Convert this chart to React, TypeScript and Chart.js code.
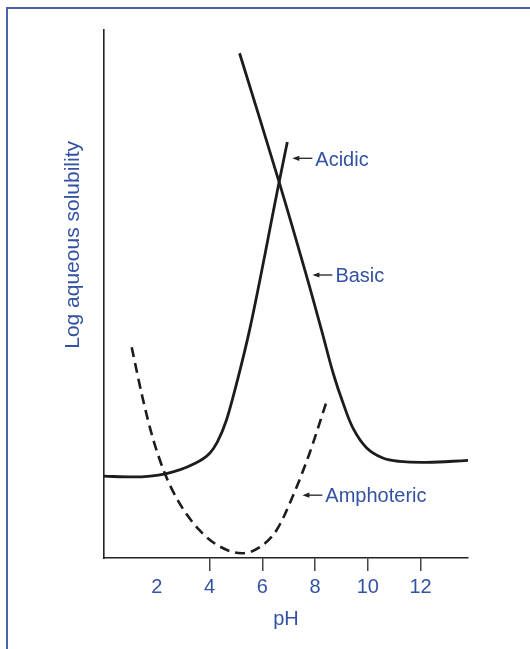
import React, { useEffect, useRef } from "react";
import { Chart, registerables } from "chart.js";

Chart.register(...registerables);

// pH axis
const xTickValues = [2, 4, 6, 8, 10, 12];
const xMin = 0;
const xMax = 13.8;

// Acidic compound (solid)
const acidicPH = [0, 1.08, 2.37, 3.36, 4.0, 4.3, 4.64, 5.06, 5.52, 6.64, 6.95];
const acidicLog = [15.5, 15.35, 16.0, 17.7, 19.8, 22.0, 26.1, 33.7, 43.2, 71.2, 78.8];

// Basic compound (solid)
const basicPH = [5.14, 6.64, 7.64, 8.24, 8.7, 9.08, 9.46, 9.95, 10.55, 11.2, 12.22, 13.8];
const basicLog = [95.6, 71.2, 54.1, 43.3, 34.8, 29.1, 24.4, 20.9, 19.0, 18.3, 18.1, 18.5];

// Amphoteric compound (dashed)
const amphPH = [1.05, 1.46, 1.84, 2.3, 2.86, 3.62, 4.38, 5.23, 5.89, 6.54, 7.14, 7.79, 8.43];
const amphLog = [39.9, 30.4, 22.9, 16.1, 10.4, 5.26, 2.2, 0.9, 2.0, 5.26, 11.5, 19.8, 29.5];

// Callout labels (arrow tip in data coordinates)
const annoLabels = ["Acidic", "Basic", "Amphoteric"];
const annoPH = [7.14, 7.9, 7.52];
const annoLog = [75.7, 53.6, 11.9];

const yTitle = "Log aqueous solubility";
const xTitle = "pH";

const BLUE = "#3352a3";
const FONT = "'Liberation Sans', Arial, sans-serif";

const toPoints = (xs: number[], ys: number[]) => xs.map((x, i) => ({ x, y: ys[i] }));

const overlayPlugin = {
  id: "overlay",
  afterDraw(chart: any) {
    const { ctx, scales, chartArea } = chart;
    const xs = scales.x;
    const ys = scales.y;
    ctx.save();
    // y-axis title
    ctx.fillStyle = BLUE;
    ctx.font = `21px ${FONT}`;
    ctx.textAlign = "center";
    ctx.textBaseline = "middle";
    ctx.translate(chartArea.left - 31, ys.getPixelForValue(59.3));
    ctx.rotate(-Math.PI / 2);
    ctx.fillText(yTitle, 0, 0);
    ctx.restore();

    ctx.save();
    ctx.font = `20px ${FONT}`;
    ctx.textAlign = "left";
    ctx.textBaseline = "alphabetic";
    annoLabels.forEach((label, i) => {
      const px = xs.getPixelForValue(annoPH[i]);
      const py = ys.getPixelForValue(annoLog[i]);
      ctx.strokeStyle = "#222";
      ctx.fillStyle = "#222";
      ctx.lineWidth = 1.3;
      ctx.beginPath();
      ctx.moveTo(px + 5, py);
      ctx.lineTo(px + 20, py);
      ctx.stroke();
      ctx.beginPath();
      ctx.moveTo(px, py);
      ctx.lineTo(px + 7, py - 2.6);
      ctx.lineTo(px + 7, py + 2.6);
      ctx.closePath();
      ctx.fill();
      ctx.fillStyle = BLUE;
      ctx.fillText(label, px + 23, py + 7.3);
    });
    ctx.restore();
  },
};

export default function App() {
  const canvasRef = useRef<HTMLCanvasElement | null>(null);

  useEffect(() => {
    if (!canvasRef.current) return;
    const lineBase = {
      borderColor: "#1c1c1c",
      borderWidth: 2.8,
      pointRadius: 0,
      fill: false,
      cubicInterpolationMode: "monotone" as const,
    };
    const chart = new Chart(canvasRef.current, {
      type: "line",
      data: {
        datasets: [
          { ...lineBase, label: "Acidic", data: toPoints(acidicPH, acidicLog) },
          {
            ...lineBase,
            label: "Basic",
            data: toPoints(basicPH, basicLog),
            cubicInterpolationMode: "default" as const,
            tension: 0.4,
          },
          {
            ...lineBase,
            label: "Amphoteric",
            data: toPoints(amphPH, amphLog),
            borderDash: [10, 6],
            borderWidth: 2.6,
          },
        ],
      },
      options: {
        animation: false,
        responsive: false,
        maintainAspectRatio: false,
        layout: { padding: { left: 0, top: 30, right: 62, bottom: 0 } },
        plugins: { legend: { display: false }, tooltip: { enabled: false }, title: { display: false } },
        scales: {
          x: {
            type: "linear",
            min: xMin,
            max: xMax,
            afterBuildTicks: (axis: any) => {
              axis.ticks = xTickValues.map((v) => ({ value: v }));
            },
            afterFit: (scale: any) => {
              scale.height = 91;
            },
            border: { display: true, color: "#222", width: 1.6 },
            grid: {
              display: true,
              drawOnChartArea: false,
              drawTicks: true,
              tickLength: 13,
              lineWidth: 1.5,
              color: (ctx: any) => (ctx.tick && ctx.tick.value === 2 ? "rgba(0,0,0,0)" : "#444"),
            },
            ticks: {
              color: BLUE,
              font: { family: FONT, size: 20 },
              padding: 4,
              maxRotation: 0,
              autoSkip: false,
              callback: (v: any) => String(v),
            },
            title: {
              display: true,
              text: xTitle,
              color: BLUE,
              font: { family: FONT, size: 20 },
              padding: { top: 0, bottom: 18 },
            },
          },
          y: {
            type: "linear",
            min: 0,
            max: 100,
            afterFit: (scale: any) => {
              scale.width = 104;
            },
            border: { display: true, color: "#222", width: 1.6 },
            grid: { display: false },
            ticks: { display: false },
          },
        },
      },
      plugins: [overlayPlugin],
    });
    return () => chart.destroy();
  }, []);

  return (
    <div style={{ position: "fixed", left: 0, top: 0, width: 530, height: 649, background: "#fff" }}>
      <div
        style={{
          position: "absolute",
          left: 6,
          top: 7,
          width: 600,
          height: 700,
          borderLeft: "2px solid #4a64aa",
          borderTop: "2px solid #4a64aa",
        }}
      />
      <canvas
        ref={canvasRef}
        width={530}
        height={649}
        style={{ position: "absolute", left: 0, top: 0, width: 530, height: 649 }}
      />
    </div>
  );
}
